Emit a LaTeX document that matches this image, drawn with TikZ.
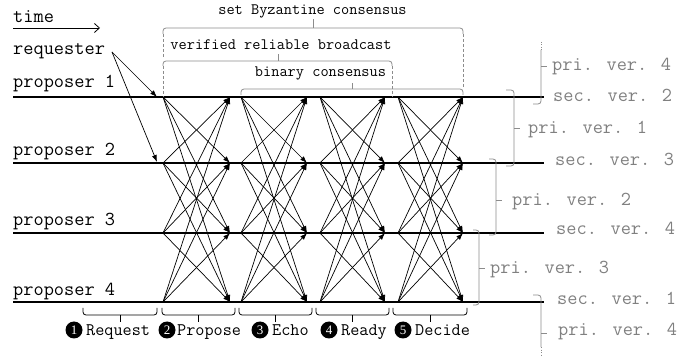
\documentclass[tikz,border=0pt]{standalone}
\usepackage{fontspec}
\newfontfamily\cour{Latin Modern Mono}
\newfontfamily\serd{Liberation Serif}
\usetikzlibrary{arrows.meta}
\definecolor{vergray}{RGB}{128,128,128}
\definecolor{bracegray}{RGB}{140,140,140}
\begin{document}
\begin{tikzpicture}[x=1pt,y=-1pt,
  txt/.style={font=\cour\fontsize{19.8}{22}\selectfont, inner sep=0pt, anchor=base west},
  toplbl/.style={font=\cour\fontsize{15.9}{18}\selectfont, inner sep=0pt, anchor=base},
  stagelbl/.style={font=\cour\fontsize{17.7}{20}\selectfont, inner sep=0pt, anchor=base west},
  verlbl/.style={txt, text=vergray},
  numc/.style={circle, fill=black, text=white, minimum size=17pt, inner sep=0pt, font=\serd\fontsize{13}{13}\selectfont},
  msg/.style={-{Latex[length=7pt,width=5pt]}, line width=0.7pt},
  pline/.style={line width=1.1pt},
  gbrace/.style={draw=bracegray, line width=0.8pt, rounded corners=3pt},
  gdash/.style={draw=bracegray, line width=0.8pt, dash pattern=on 3pt off 2pt},
  gdot/.style={draw=bracegray, line width=0.8pt, dash pattern=on 1pt off 1.5pt},
  bbrace/.style={draw=black, line width=0.8pt, rounded corners=3pt}
]
\useasboundingbox (0,0) rectangle (694,358);

% coordinates
\foreach \p/\y in {1/97,2/163,3/233,4/302} {
  \coordinate (L\p) at (13,\y);
  \coordinate (R\p) at (544,\y);
  \foreach \s/\xa/\xb in {1/163/230,2/241/307,3/320/385,4/398/463} {
    \coordinate (a\s\p) at (\xa,\y);
    \coordinate (b\s\p) at (\xb,\y);
  }
}

% left texts
\node[txt] (time) at (13,23) {time};
\coordinate (tA) at (13,28);
\coordinate (tB) at (100,28);
\draw[line width=0.8pt, -{Straight Barb[length=5pt,width=9pt]}] (tA) -- (tB);
\node[txt] (req) at (13,55) {requester};
\node[txt] (p1) at (13,88) {proposer 1};
\node[txt] (p2) at (13,156) {proposer 2};
\node[txt] (p3) at (13,226) {proposer 3};
\node[txt] (p4) at (13,296) {proposer 4};

% proposer lines
\foreach \p in {1,...,4} \draw[pline] (L\p) -- (R\p);

% requester arrows
\coordinate (rq) at (112,52);
\coordinate (rq1) at (157,97);
\coordinate (rq2) at (157,162);
\draw[msg] (rq) -- (rq1);
\draw[msg] (rq) -- (rq2);

% all-to-all messages
\foreach \s in {1,...,4}
  \foreach \i in {1,...,4}
    \foreach \j in {1,...,4} {
      \ifnum\i=\j\relax\else
        \draw[msg] (a\s\i) -- (b\s\j);
      \fi
    }

% top braces
\node[toplbl] (sbc) at (312.5,15) {set Byzantine consensus};
\node[toplbl] (vrb) at (281,50) {verified reliable broadcast};
\node[toplbl] (bc) at (320.5,77) {binary consensus};
\draw[gbrace] (163,34) -- (163,28) -- (463,28) -- (463,34);
\draw[gbrace] (313,28) -- (313,19);
\draw[gdash] (163,34) -- (163,58);
\draw[gdash] (463,34) -- (463,87);
\draw[gbrace] (163,66) -- (163,61) -- (392,61) -- (392,66);
\draw[gbrace] (278,61) -- (278,54);
\draw[gdash] (163,66) -- (163,97);
\draw[gdash] (392,66) -- (392,97);
\draw[gbrace] (241,95) -- (241,89) -- (463,89) -- (463,95);
\draw[gbrace] (352,89) -- (352,83);

% bottom braces
\foreach \xa/\xb in {83/157,162/235,239/312,316/389,393/467} {
  \draw[bbrace] (\xa,308) -- (\xa,315) -- (\xb,315) -- (\xb,308);
  \draw[bbrace] ({(\xa+\xb)/2},315) -- ({(\xa+\xb)/2},322);
}
\node[numc] (n1) at (74,330) {1};
\node[stagelbl] (s1) at (86,335) {Request};
\node[numc] (n2) at (167,330) {2};
\node[stagelbl] (s2) at (177,335) {Propose};
\node[numc] (n3) at (260,330) {3};
\node[stagelbl] (s3) at (272,335) {Echo};
\node[numc] (n4) at (329,330) {4};
\node[stagelbl] (s4) at (341,335) {Ready};
\node[numc] (n5) at (403,330) {5};
\node[stagelbl] (s5) at (415,335) {Decide};

% right braces
\draw[gdot] (541,42) -- (541,50);
\draw[gbrace] (541,50) -- (541,104) -- (533,104);
\draw[gbrace] (541,66) -- (547,66);
\draw[gbrace] (506,90) -- (514,90) -- (514,166) -- (506,166);
\draw[gbrace] (514,128) -- (520,128);
\draw[gbrace] (489,159) -- (496,159) -- (496,235) -- (489,235);
\draw[gbrace] (496,200) -- (502,200);
\draw[gbrace] (473,230) -- (479,230) -- (479,305) -- (473,305);
\draw[gbrace] (479,268) -- (485,268);
\draw[gbrace] (533,295) -- (541,295) -- (541,347);
\draw[gdot] (541,347) -- (541,355);
\draw[gbrace] (541,333) -- (547,333);

% right labels
\node[verlbl] (v1) at (552,71) {pri. ver. 4};
\node[verlbl] (v2) at (553,102) {sec. ver. 2};
\node[verlbl] (v3) at (528,134) {pri. ver. 1};
\node[verlbl] (v4) at (555,166) {sec. ver. 3};
\node[verlbl] (v5) at (512,206) {pri. ver. 2};
\node[verlbl] (v6) at (556,235) {sec. ver. 4};
\node[verlbl] (v7) at (490,274) {pri. ver. 3};
\node[verlbl] (v8) at (557,305) {sec. ver. 1};
\node[verlbl] (v9) at (558,336) {pri. ver. 4};
\end{tikzpicture}
\end{document}
